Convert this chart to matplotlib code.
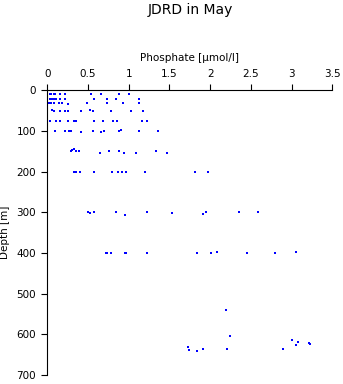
import numpy as np
import matplotlib
matplotlib.use("Agg")
import matplotlib.pyplot as plt

plt.rcParams['font.family'] = ['DejaVu Sans']

# phosphate [umol/l] and depth [m], grouped by sampling level
po4_surf = [0.02, 0.04, 0.05, 0.07, 0.09, 0.14, 0.16, 0.18, 0.25, 0.60, 0.67, 0.88, 1.13,
            0.03, 0.05, 0.08, 0.10, 0.16, 0.22, 0.54, 0.66, 0.88, 1.01,
            0.03, 0.06, 0.08, 0.11, 0.16, 0.22, 0.57, 0.73, 0.84, 1.13,
            0.02, 0.05, 0.08, 0.14, 0.18, 0.25, 0.49, 0.73, 0.93, 1.13]
dep_surf = [0] * 13 + [10] * 10 + [21, 21, 21, 21, 21, 21, 21, 21, 21, 22] + \
           [31, 31, 31, 31, 31, 34, 32, 32, 31, 32]

po4_mid = [0.06, 0.08, 0.16, 0.22, 0.25, 0.41, 0.53, 0.56, 0.78, 1.03, 1.18,
           0.04, 0.11, 0.16, 0.25, 0.33, 0.35, 0.58, 0.68, 0.81, 0.86, 1.16, 1.23,
           0.10, 0.22, 0.27, 0.29, 0.41, 0.56, 0.66, 0.70, 0.88, 0.91, 1.13, 1.36]
dep_mid = [48, 50, 50, 50, 50, 50, 48, 50, 50, 51, 52,
           75, 75, 75, 75, 75, 75, 75, 75, 75, 75, 75, 75,
           100, 100, 100, 100, 103, 100, 103, 100, 100, 98, 100, 100]

po4_deep = [0.29, 0.31, 0.33, 0.35, 0.39, 0.65, 0.76, 0.88, 0.94, 1.09, 1.33, 1.47,
            0.33, 0.35, 0.40, 0.58, 0.80, 0.87, 0.92, 0.97, 1.20, 1.81, 1.98,
            0.50, 0.52, 0.57, 0.84, 0.95, 1.23, 1.53, 1.91, 1.95, 2.35, 2.59,
            0.72, 0.74, 0.78, 0.95, 0.97, 1.22, 1.84, 2.01, 2.08, 2.45, 2.80, 3.06]
dep_deep = [149, 147, 145, 148, 149, 154, 149, 149, 154, 153, 149, 153,
            200, 200, 200, 200, 200, 200, 200, 200, 202, 200, 201,
            300, 301, 300, 300, 306, 299, 302, 304, 300, 300, 300,
            400, 400, 400, 400, 400, 400, 400, 400, 398, 400, 400, 398]

po4_bottom = [1.73, 1.745, 1.84, 1.91, 2.20, 2.21, 2.25, 2.90, 3.01, 3.06, 3.08, 3.22, 3.23]
dep_bottom = [630, 639, 642, 636, 539, 635, 605, 637, 615, 625, 618, 621, 624]

po4 = np.array(po4_surf + po4_mid + po4_deep + po4_bottom)
depth = np.array(dep_surf + dep_mid + dep_deep + dep_bottom)

fig = plt.figure(figsize=(3.43, 3.84), dpi=100)
ax = fig.add_axes([0.1376, 0.0234, 0.8312, 0.7414])

ax.plot(po4, depth, ls='none', marker='s', ms=1.9, mew=0, color='#0000ff')

ax.set_xlim(0, 3.5)
ax.set_ylim(700, 0)
ax.set_xticks(np.arange(0, 3.51, 0.5))
ax.set_xticklabels(['0', '0.5', '1', '1.5', '2', '2.5', '3', '3.5'])
ax.set_yticks(np.arange(0, 701, 100))

ax.xaxis.tick_top()
ax.xaxis.set_label_position('top')
for s in ['right', 'bottom']:
    ax.spines[s].set_visible(False)
for s in ['top', 'left']:
    ax.spines[s].set_linewidth(0.8)
ax.tick_params(axis='both', direction='out', length=4, width=0.8,
               labelsize=7.5, pad=4, color='black')

ax.set_xlabel('Phosphate [µmol/l]', fontsize=7.5, va='center')
ax.xaxis.set_label_coords(0.5, 1.115)
ax.set_ylabel('Depth [m]', fontsize=7.5, va='center')
ax.yaxis.set_label_coords(-0.148, 0.5)

fig.text(0.554, 0.975, 'JDRD in May', ha='center', va='center', fontsize=10)

fig.savefig('out.png', dpi=100)
